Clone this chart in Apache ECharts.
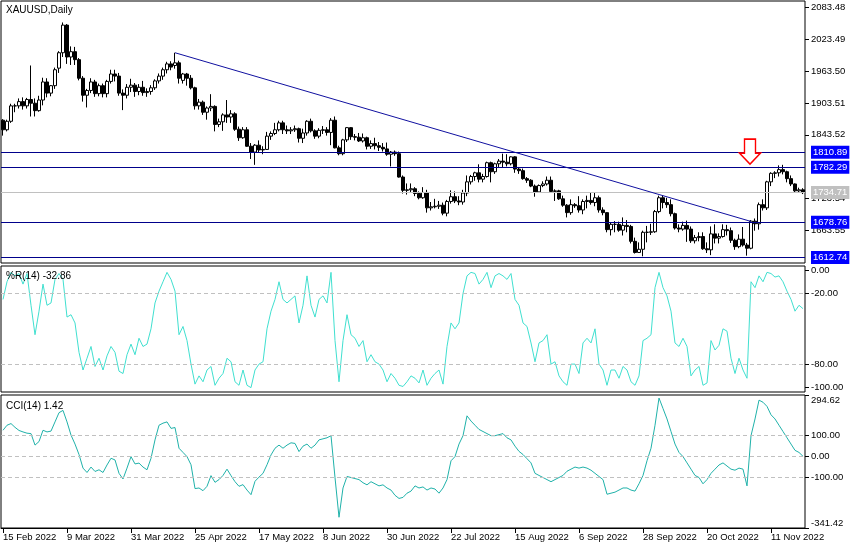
<!DOCTYPE html>
<html><head><meta charset="utf-8">
<script src="https://cdn.jsdelivr.net/npm/echarts@6/dist/echarts.min.js"></script>
<style>html,body{margin:0;padding:0;background:#fff}#c{width:860px;height:550px}</style>
</head><body><div id="c"></div>
<script>
const dates = [
'15 Feb 2022','16 Feb 2022','17 Feb 2022','18 Feb 2022','21 Feb 2022','22 Feb 2022','23 Feb 2022','24 Feb 2022','25 Feb 2022','28 Feb 2022',
'1 Mar 2022','2 Mar 2022','3 Mar 2022','4 Mar 2022','7 Mar 2022','8 Mar 2022','9 Mar 2022','10 Mar 2022','11 Mar 2022','14 Mar 2022',
'15 Mar 2022','16 Mar 2022','17 Mar 2022','18 Mar 2022','21 Mar 2022','22 Mar 2022','23 Mar 2022','24 Mar 2022','25 Mar 2022','28 Mar 2022',
'29 Mar 2022','30 Mar 2022','31 Mar 2022','1 Apr 2022','4 Apr 2022','5 Apr 2022','6 Apr 2022','7 Apr 2022','8 Apr 2022','11 Apr 2022',
'12 Apr 2022','13 Apr 2022','14 Apr 2022','18 Apr 2022','19 Apr 2022','20 Apr 2022','21 Apr 2022','22 Apr 2022','25 Apr 2022','26 Apr 2022',
'27 Apr 2022','28 Apr 2022','29 Apr 2022','2 May 2022','3 May 2022','4 May 2022','5 May 2022','6 May 2022','9 May 2022','10 May 2022',
'11 May 2022','12 May 2022','13 May 2022','16 May 2022','17 May 2022','18 May 2022','19 May 2022','20 May 2022','23 May 2022','24 May 2022',
'25 May 2022','26 May 2022','27 May 2022','30 May 2022','31 May 2022','1 Jun 2022','2 Jun 2022','3 Jun 2022','6 Jun 2022','7 Jun 2022',
'8 Jun 2022','9 Jun 2022','10 Jun 2022','13 Jun 2022','14 Jun 2022','15 Jun 2022','16 Jun 2022','17 Jun 2022','20 Jun 2022','21 Jun 2022',
'22 Jun 2022','23 Jun 2022','24 Jun 2022','27 Jun 2022','28 Jun 2022','29 Jun 2022','30 Jun 2022','1 Jul 2022','4 Jul 2022','5 Jul 2022',
'6 Jul 2022','7 Jul 2022','8 Jul 2022','11 Jul 2022','12 Jul 2022','13 Jul 2022','14 Jul 2022','15 Jul 2022','18 Jul 2022','19 Jul 2022',
'20 Jul 2022','21 Jul 2022','22 Jul 2022','25 Jul 2022','26 Jul 2022','27 Jul 2022','28 Jul 2022','29 Jul 2022','1 Aug 2022','2 Aug 2022',
'3 Aug 2022','4 Aug 2022','5 Aug 2022','8 Aug 2022','9 Aug 2022','10 Aug 2022','11 Aug 2022','12 Aug 2022','15 Aug 2022','16 Aug 2022',
'17 Aug 2022','18 Aug 2022','19 Aug 2022','22 Aug 2022','23 Aug 2022','24 Aug 2022','25 Aug 2022','26 Aug 2022','29 Aug 2022','30 Aug 2022',
'31 Aug 2022','1 Sep 2022','2 Sep 2022','5 Sep 2022','6 Sep 2022','7 Sep 2022','8 Sep 2022','9 Sep 2022','12 Sep 2022','13 Sep 2022',
'14 Sep 2022','15 Sep 2022','16 Sep 2022','19 Sep 2022','20 Sep 2022','21 Sep 2022','22 Sep 2022','23 Sep 2022','26 Sep 2022','27 Sep 2022',
'28 Sep 2022','29 Sep 2022','30 Sep 2022','3 Oct 2022','4 Oct 2022','5 Oct 2022','6 Oct 2022','7 Oct 2022','10 Oct 2022','11 Oct 2022',
'12 Oct 2022','13 Oct 2022','14 Oct 2022','17 Oct 2022','18 Oct 2022','19 Oct 2022','20 Oct 2022','21 Oct 2022','24 Oct 2022','25 Oct 2022',
'26 Oct 2022','27 Oct 2022','28 Oct 2022','31 Oct 2022','1 Nov 2022','2 Nov 2022','3 Nov 2022','4 Nov 2022','7 Nov 2022','8 Nov 2022',
'9 Nov 2022','10 Nov 2022','11 Nov 2022','14 Nov 2022','15 Nov 2022','16 Nov 2022','17 Nov 2022','18 Nov 2022','21 Nov 2022','22 Nov 2022',
'23 Nov 2022'];

const openP = [
1871,1853,1869,1898,1898,1906,1898,1910,1903,1889,
1909,1943,1922,1936,1969,1998,2050,1990,2000,1985,
1950,1918,1927,1943,1921,1936,1921,1944,1958,1954,
1922,1918,1933,1937,1925,1933,1923,1925,1932,1945,
1954,1966,1977,1974,1979,1946,1958,1950,1932,1898,
1905,1886,1894,1897,1863,1868,1881,1877,1883,1854,
1838,1853,1822,1811,1824,1815,1816,1841,1846,1853,
1866,1853,1851,1853,1855,1837,1847,1869,1851,1841,
1852,1853,1848,1871,1819,1808,1834,1857,1840,1839,
1832,1838,1822,1827,1823,1820,1817,1807,1811,1808,
1764,1739,1740,1742,1733,1725,1735,1706,1708,1709,
1711,1696,1718,1727,1719,1717,1734,1755,1765,1772,
1760,1765,1791,1774,1789,1794,1792,1789,1802,1779,
1776,1761,1758,1747,1736,1748,1751,1758,1737,1738,
1723,1711,1697,1712,1710,1702,1718,1720,1716,1725,
1702,1697,1665,1675,1675,1664,1673,1671,1643,1622,
1628,1660,1660,1661,1699,1725,1716,1712,1695,1668,
1666,1673,1666,1644,1650,1652,1629,1627,1657,1649,
1652,1665,1663,1645,1633,1647,1636,1630,1681,1676,
1712,1706,1755,1771,1772,1778,1774,1761,1751,1738,
1740];
const closeP = [
1853,1869,1898,1898,1906,1898,1910,1903,1889,1909,
1943,1922,1936,1966,1998,2050,1990,2000,1985,1950,
1918,1927,1943,1921,1936,1921,1944,1958,1954,1922,
1918,1933,1937,1925,1933,1923,1925,1932,1945,1954,
1966,1977,1971,1979,1950,1958,1950,1932,1898,1905,
1886,1894,1897,1863,1868,1881,1877,1883,1854,1838,
1853,1822,1811,1824,1815,1816,1841,1846,1853,1866,
1853,1851,1853,1855,1837,1847,1869,1851,1841,1852,
1853,1848,1871,1819,1808,1834,1857,1840,1839,1832,
1838,1822,1827,1823,1820,1817,1807,1811,1808,1764,
1739,1740,1742,1733,1725,1735,1706,1708,1709,1711,
1696,1718,1727,1719,1717,1734,1755,1765,1772,1760,
1765,1791,1774,1789,1794,1792,1789,1802,1779,1776,
1761,1758,1747,1736,1748,1751,1758,1737,1738,1723,
1711,1697,1712,1710,1702,1718,1720,1716,1725,1702,
1697,1665,1675,1675,1664,1673,1671,1643,1622,1628,
1660,1660,1661,1699,1725,1716,1712,1695,1668,1666,
1673,1666,1644,1650,1652,1629,1627,1657,1649,1652,
1665,1663,1645,1633,1647,1636,1630,1681,1676,1712,
1706,1755,1771,1772,1778,1774,1761,1751,1738,1740,
1734.71];
const highP = [
1873,1872,1902,1902,1912,1914,1913,1974,1912,1917,
1951,1950,1937,1970,2001,2055,2052,2010,2009,1988,
1954,1930,1950,1947,1940,1940,1947,1966,1966,1960,
1929,1939,1949,1941,1939,1945,1931,1937,1948,1959,
1970,1981,1982,1998,1983,1960,1960,1956,1934,1911,
1908,1897,1920,1899,1874,1884,1909,1890,1886,1859,
1858,1858,1828,1826,1833,1822,1849,1850,1866,1870,
1870,1861,1858,1861,1857,1855,1871,1874,1854,1856,
1860,1858,1875,1878,1823,1836,1858,1858,1845,1847,
1846,1840,1833,1838,1830,1828,1829,1813,1814,1812,
1767,1752,1752,1745,1737,1745,1740,1717,1723,1719,
1716,1721,1739,1737,1728,1740,1767,1768,1774,1788,
1770,1793,1793,1791,1798,1808,1807,1803,1803,1783,
1780,1764,1760,1750,1750,1756,1765,1765,1741,1740,
1729,1713,1722,1715,1728,1722,1729,1735,1735,1729,
1707,1698,1679,1681,1680,1688,1683,1674,1650,1641,
1663,1672,1676,1702,1729,1730,1725,1722,1697,1675,
1680,1682,1671,1655,1660,1660,1641,1671,1675,1658,
1675,1674,1669,1648,1656,1670,1640,1683,1686,1716,
1722,1757,1773,1775,1786,1787,1776,1767,1752,1744,
1743];
const lowP = [
1842,1850,1866,1886,1893,1891,1893,1878,1878,1887,
1899,1914,1916,1930,1960,1990,1977,1975,1975,1946,
1906,1895,1922,1915,1916,1914,1914,1940,1944,1917,
1890,1912,1924,1915,1918,1917,1915,1919,1928,1940,
1947,1959,1965,1968,1940,1940,1936,1929,1891,1891,
1881,1872,1888,1850,1858,1851,1866,1866,1851,1832,
1836,1821,1798,1787,1810,1807,1815,1834,1843,1850,
1845,1845,1845,1849,1829,1828,1842,1848,1836,1837,
1845,1842,1824,1818,1805,1805,1830,1834,1833,1830,
1829,1816,1817,1816,1813,1812,1804,1784,1804,1763,
1733,1731,1734,1728,1722,1723,1697,1701,1705,1704,
1692,1690,1714,1715,1711,1712,1728,1750,1757,1754,
1754,1763,1754,1770,1783,1782,1784,1786,1772,1770,
1759,1753,1745,1727,1735,1745,1748,1734,1719,1721,
1708,1688,1693,1706,1697,1694,1705,1712,1709,1697,
1692,1660,1654,1660,1661,1654,1660,1639,1620,1621,
1614.8,1641,1655,1659,1696,1705,1706,1690,1665,1660,
1663,1642,1640,1639,1643,1627,1621,1617,1639,1639,
1650,1654,1640,1627,1630,1633,1616,1628,1663,1665,
1701,1702,1747,1762,1765,1769,1754,1747,1735,1734,
1732];

const wr14 = [
-25,-10,-2,-5,-3,-12,-3,-30,-55,-35,
-12,-30,-28,-8,-3,-8,-40,-38,-45,-70,
-85,-75,-65,-82,-75,-85,-73,-65,-70,-86,
-88,-72,-63,-72,-58,-65,-63,-50,-28,-18,
-10,-2,-8,-18,-55,-48,-60,-80,-97,-90,
-95,-85,-82,-98,-92,-88,-75,-78,-95,-98,
-85,-98,-100,-85,-80,-78,-50,-35,-25,-10,
-25,-28,-25,-22,-45,-30,-5,-30,-40,-25,
-22,-28,-2,-60,-95,-60,-38,-55,-58,-65,
-60,-78,-72,-78,-80,-85,-95,-88,-92,-98,
-99,-95,-90,-92,-96,-85,-98,-92,-88,-85,
-97,-65,-45,-50,-45,-20,-5,-2,-3,-12,
-8,-2,-15,-5,-3,-5,-8,-3,-25,-30,
-45,-48,-62,-78,-62,-60,-55,-80,-78,-90,
-95,-98,-80,-80,-88,-62,-58,-62,-50,-80,
-85,-98,-85,-85,-92,-82,-85,-95,-98,-90,
-60,-58,-55,-15,-2,-15,-22,-35,-62,-65,
-58,-65,-90,-85,-82,-98,-96,-60,-68,-64,
-50,-52,-75,-88,-75,-85,-92,-10,-15,-5,
-10,-2,-3,-6,-5,-10,-18,-25,-35,-30,
-32.86];
const cci14 = [
126,150,158,140,125,118,112,110,55,72,
126,118,122,166,210,221,166,103,60,10,
-55,-76,-50,-71,-63,-76,-40,-8,-16,-80,
-107,-55,0,-35,-31,-50,-63,-8,80,150,
160,166,135,139,40,20,0,-39,-153,-150,
-163,-142,-91,-123,-110,-90,-60,-91,-120,-142,
-134,-160,-182,-118,-98,-80,-39,8,40,55,
40,55,66,63,24,50,60,40,55,80,
85,90,100,-100,-290,-150,-95,-100,-105,-110,
-125,-135,-120,-130,-140,-135,-150,-160,-185,-200,
-195,-175,-165,-140,-150,-145,-160,-150,-155,-175,
-150,-110,-20,0,60,100,195,170,150,130,
120,110,100,100,105,110,90,80,50,25,
10,-10,-30,-80,-90,-100,-110,-120,-110,-100,
-90,-70,-60,-50,-55,-50,-55,-65,-80,-95,
-110,-180,-175,-170,-160,-150,-150,-160,-165,-130,
-90,-20,40,150,280,230,180,120,60,20,
0,-30,-60,-90,-100,-130,-110,-80,-60,-40,
-30,-45,-60,-65,-55,-60,-140,100,180,270,
260,240,200,180,150,120,90,60,30,20,
1.42];

const priceTicks = [1663.55,1723.54,1843.52,1903.51,1963.50,2023.49,2083.48];
const wrTicks = [0,-20,-80,-100];
const cciTicks = [294.62,100,0,-100,-341.42];
const levelLines = [1810.89,1782.29,1678.76,1612.74];
const lastPrice = 1734.71;
const trendStart = ['18 Apr 2022', 1998];
const trendEnd = ['4 Nov 2022', 1680.4];
const arrowAt = ['4 Nov 2022', 1811.8];

const FONT = '"Liberation Sans",Arial,sans-serif';
const FS = 9.5;
const chart = echarts.init(document.getElementById('c'));

const candleData = dates.map((d,i)=>[openP[i], closeP[i], lowP[i], highP[i]]);
const fmt2 = v => Number(v).toFixed(2);
const gridBase = {left:1, right:55, show:true, borderColor:'#000', borderWidth:1, backgroundColor:'#fff'};

const boxLabel = (bg) => ({show:true, position:'end', formatter: p => fmt2(p.value), color:'#fff', backgroundColor:bg,
    padding:[2,2,1,2], fontSize:FS, fontFamily:FONT, distance:6});
const levelItems = levelLines.map(v => ({
  yAxis: v, lineStyle:{color:'#00008b', width:1, type:'solid'}, label: boxLabel('#0000ff')
}));
levelItems.push({ yAxis: lastPrice, lineStyle:{color:'#c0c0c0', width:1, type:'solid'}, label: boxLabel('#c0c0c0') });

const yLabelBase = {color:'#000', fontSize:FS, fontFamily:FONT, margin:6, formatter: fmt2};

chart.setOption({
  animation:false,
  backgroundColor:'#fff',
  graphic:[
    {type:'text', left:6, top:5, style:{text:'XAUUSD,Daily', fontSize:FS+0.5, fontFamily:FONT, fill:'#000'}, z:100},
    {type:'text', left:6, top:271, style:{text:'%R(14) -32.86', fontSize:FS+0.5, fontFamily:FONT, fill:'#000'}, z:100},
    {type:'text', left:6, top:401, style:{text:'CCI(14) 1.42', fontSize:FS+0.5, fontFamily:FONT, fill:'#000'}, z:100}
  ],
  grid:[
    Object.assign({top:1, height:262}, gridBase),
    Object.assign({top:266, height:126}, gridBase),
    Object.assign({top:395, height:133}, gridBase)
  ],
  xAxis:[
    {type:'category', data:dates, gridIndex:0, show:false, boundaryGap:true},
    {type:'category', data:dates, gridIndex:1, show:false, boundaryGap:true},
    {type:'category', data:dates, gridIndex:2, boundaryGap:true,
      axisLine:{show:true, onZero:false, lineStyle:{color:'#000'}},
      axisTick:{show:true, interval:15, alignWithLabel:true, length:5, lineStyle:{color:'#000'}},
      axisLabel:{interval:15, align:'left', color:'#000', fontSize:FS, fontFamily:FONT, margin:4},
      splitLine:{show:false}}
  ],
  yAxis:[
    {type:'value', gridIndex:0, position:'right', min:1602.2, max:2095.4,
      axisLine:{show:false}, splitLine:{show:false},
      axisTick:{show:true, customValues:priceTicks, length:4, lineStyle:{color:'#000'}},
      axisLabel:Object.assign({customValues:priceTicks}, yLabelBase)},
    {type:'value', gridIndex:1, position:'right', min:-103.7, max:3.4,
      axisLine:{show:false}, splitLine:{show:false},
      axisTick:{show:true, customValues:wrTicks, length:4, lineStyle:{color:'#000'}},
      axisLabel:Object.assign({customValues:wrTicks}, yLabelBase)},
    {type:'value', gridIndex:2, position:'right', min:-341.42, max:294.62,
      axisLine:{show:false}, splitLine:{show:false},
      axisTick:{show:true, customValues:cciTicks, length:4, lineStyle:{color:'#000'}},
      axisLabel:Object.assign({}, yLabelBase, {customValues:cciTicks,
        formatter: v => {
          if (v > 290) return '{t|' + fmt2(v) + '}';
          if (v < -340) return '{b|' + fmt2(v) + '}';
          return fmt2(v);
        },
        rich:{t:{padding:[11,0,0,0], fontSize:FS, fontFamily:FONT, color:'#000'},
              b:{padding:[0,0,9,0], fontSize:FS, fontFamily:FONT, color:'#000'}}})}
  ],
  series:[
    {type:'candlestick', name:'XAUUSD', xAxisIndex:0, yAxisIndex:0, data:candleData, barWidth:3,
      itemStyle:{color:'#ffffff', color0:'#000000', borderColor:'#000000', borderColor0:'#000000', borderWidth:1},
      markLine:{silent:true, symbol:['none','none'], animation:false,
        data: levelItems.concat([[
          {coord:trendStart, lineStyle:{color:'#1010a0', width:1, type:'solid'}, label:{show:false}},
          {coord:trendEnd}
        ]])},
      markPoint:{silent:true, animation:false,
        data:[{coord:arrowAt, symbol:'path://M5,0L16,0L16,14L21,14L10.5,25L0,14L5,14Z', symbolSize:[21,25],
          symbolOffset:[-1,0], itemStyle:{color:'#ffffff', borderColor:'#ff0000', borderWidth:1.5}, label:{show:false}}]}
    },
    {type:'line', name:'%R(14)', xAxisIndex:1, yAxisIndex:1, data:wr14, symbol:'none',
      lineStyle:{color:'#40e0d0', width:1}, itemStyle:{color:'#40e0d0'},
      markLine:{silent:true, symbol:['none','none'], label:{show:false},
        lineStyle:{color:'#c0c0c0', type:[4,3], width:1},
        data:[{yAxis:-20},{yAxis:-80}]}},
    {type:'line', name:'CCI(14)', xAxisIndex:2, yAxisIndex:2, data:cci14, symbol:'none',
      lineStyle:{color:'#20b2aa', width:1}, itemStyle:{color:'#20b2aa'},
      markLine:{silent:true, symbol:['none','none'], label:{show:false},
        lineStyle:{color:'#c0c0c0', type:[4,3], width:1},
        data:[{yAxis:100},{yAxis:0},{yAxis:-100}]}}
  ]
});
</script></body></html>
